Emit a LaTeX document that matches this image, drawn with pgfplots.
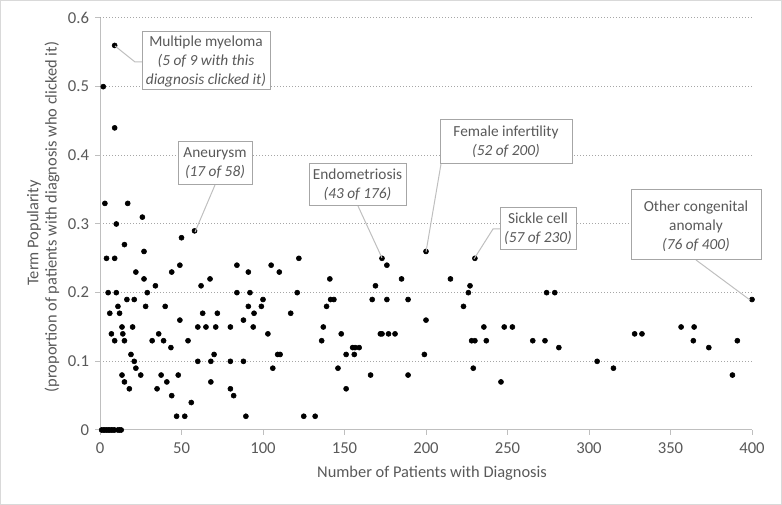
\documentclass[border=0pt]{standalone}
\usepackage{pgfplots}
\pgfplotsset{compat=1.18}
\usepackage{fontspec}
\setmainfont{Carlito}
\definecolor{txt}{HTML}{595959}
\definecolor{axg}{HTML}{BFBFBF}
\definecolor{grd}{HTML}{A6A6A6}
\definecolor{brd}{HTML}{D9D9D9}
\definecolor{boxc}{HTML}{A6A6A6}

\pgfplotstableread{
x y
1 0
2 0
3 0
4 0
5 0
6 0
7 0
8 0
9 0
11 0
12 0
13 0
2 0.50
9 0.56
9 0.44
3 0.33
17 0.33
26 0.31
10 0.30
15 0.27
4 0.25
9 0.25
27 0.26
22 0.23
27 0.22
34 0.21
44 0.23
49 0.24
50 0.28
58 0.29
62 0.21
5 0.20
10 0.20
29 0.20
16.5 0.19
21 0.19
11 0.18
28 0.18
40 0.18
6 0.17
12 0.17
63 0.17
49 0.16
13.5 0.15
20 0.15
60 0.15
7 0.14
14 0.14
36 0.14
9 0.13
15 0.13
32 0.13
39 0.13
54 0.13
43.5 0.12
19 0.11
21 0.10
60 0.10
22 0.09
13.5 0.08
25 0.08
37.5 0.08
48 0.08
15 0.07
41 0.07
18 0.06
35 0.06
44 0.05
56 0.04
47 0.02
52 0.02
67.5 0.22
84 0.24
91 0.23
105 0.24
110 0.23
122 0.25
84 0.20
92 0.20
121 0.20
100 0.19
72 0.17
94.5 0.17
117 0.17
91 0.18
99 0.18
88 0.16
65 0.15
71 0.15
80 0.15
94 0.15
137 0.15
103 0.14
136 0.13
70 0.11
109 0.11
110.5 0.11
68 0.10
80 0.10
88 0.10
106 0.09
68 0.07
80 0.06
82 0.05
89.5 0.02
125 0.02
132 0.02
173 0.25
176 0.24
200 0.26
230 0.25
141 0.22
185 0.22
215 0.22
169 0.21
227 0.21
226 0.20
141.5 0.19
143.5 0.19
167 0.19
176 0.19
189 0.19
139 0.18
223 0.18
200 0.16
148 0.14
172 0.14
173 0.14
177 0.14
181 0.14
155 0.12
156.5 0.12
159 0.12
151 0.11
156 0.11
199 0.11
228 0.13
230 0.13
146 0.09
166 0.08
189 0.08
229 0.09
151 0.06
274 0.20
279 0.20
235.5 0.15
248 0.15
253 0.15
237 0.13
265.5 0.13
273 0.13
281.5 0.12
305 0.10
315 0.09
246 0.07
328 0.14
332.5 0.14
400 0.19
356.5 0.15
364.5 0.15
364 0.13
391 0.13
373.5 0.12
388 0.08
}\pts

\begin{document}
\begin{tikzpicture}
\useasboundingbox (0,0) rectangle (586.5pt,378.75pt);
\draw[brd, line width=0.75pt] (0.375pt,0.375pt) rectangle (586.125pt,378.375pt);
\begin{axis}[
  at={(75pt,56.25pt)}, anchor=south west,
  scale only axis, width=489pt, height=309pt,
  xmin=0, xmax=400, ymin=0, ymax=0.6,
  axis x line*=bottom, axis y line*=left,
  axis line style={axg, line width=0.75pt, -},
  xtick={0,50,100,150,200,250,300,350,400},
  ytick={0,0.1,0.2,0.3,0.4,0.5,0.6},
  tick style={axg, line width=0.75pt},
  tick align=outside, major tick length=3.75pt,
  ymajorgrids, grid style={grd, line width=0.75pt, dash pattern=on 0.75pt off 1.5pt},
  tick label style={font=\fontsize{12.5}{14}\selectfont, text=txt},
  yticklabel style={/pgf/number format/fixed, /pgf/number format/precision=1, xshift=-1pt},
  xticklabel style={yshift=-2.5pt},
  /pgf/number format/assume math mode=true,
  clip=false,
]
\addplot[only marks, mark=*, mark size=1.9pt, black] table[x=x,y=y] {\pts};
\end{axis}
\begin{scope}[x=0.75pt, y=-0.75pt, yshift=378.75pt]
  \tikzset{lbl/.style={text=txt, font=\fontsize{11.5}{14.25}\selectfont, align=center, inner sep=0pt},
           ttl/.style={text=txt, font=\fontsize{12.3}{14.5}\selectfont, inner sep=0pt}}
  % axis titles
  \node[ttl, rotate=90] at (34,233) {Term Popularity};
  \node[ttl, rotate=90] at (52,217) {(proportion of patients with diagnosis who clicked it)};
  \node[ttl] at (432,473) {Number of Patients with Diagnosis};
  % connectors
  \draw[axg, line width=0.75pt] (115,46) -- (135,62) -- (142,62);
  \draw[axg, line width=0.75pt] (215,185) -- (195,232);
  \draw[axg, line width=0.75pt] (358,206) -- (382,258);
  \draw[axg, line width=0.75pt] (441,164) -- (426,252);
  \draw[axg, line width=0.75pt] (500,229) -- (493,229) -- (474,259);
  \draw[axg, line width=0.75pt] (696,260) -- (750,300);
  % boxes
  \draw[boxc, fill=white, line width=0.75pt] (142,32) rectangle (270,90);
  \node[lbl] at (206,62) {Multiple myeloma\\\itshape (5 of 9 with this\\\itshape diagnosis clicked it)};
  \draw[boxc, fill=white, line width=0.75pt] (178,142) rectangle (252,185);
  \node[lbl] at (215,163.5) {Aneurysm\\\itshape (17 of 58)};
  \draw[boxc, fill=white, line width=0.75pt] (309,164) rectangle (406,206);
  \node[lbl] at (357.5,185) {Endometriosis\\\itshape (43 of 176)};
  \draw[boxc, fill=white, line width=0.75pt] (440,120) rectangle (572,164);
  \node[lbl] at (506,142) {Female infertility\\\itshape (52 of 200)};
  \draw[boxc, fill=white, line width=0.75pt] (500,208) rectangle (576,250);
  \node[lbl] at (538,229) {Sickle cell\\\itshape (57 of 230)};
  \draw[boxc, fill=white, line width=0.75pt] (631,190) rectangle (761,260);
  \node[lbl] at (696,226) {Other congenital\\anomaly\\\itshape (76 of 400)};
\end{scope}
\end{tikzpicture}
\end{document}
